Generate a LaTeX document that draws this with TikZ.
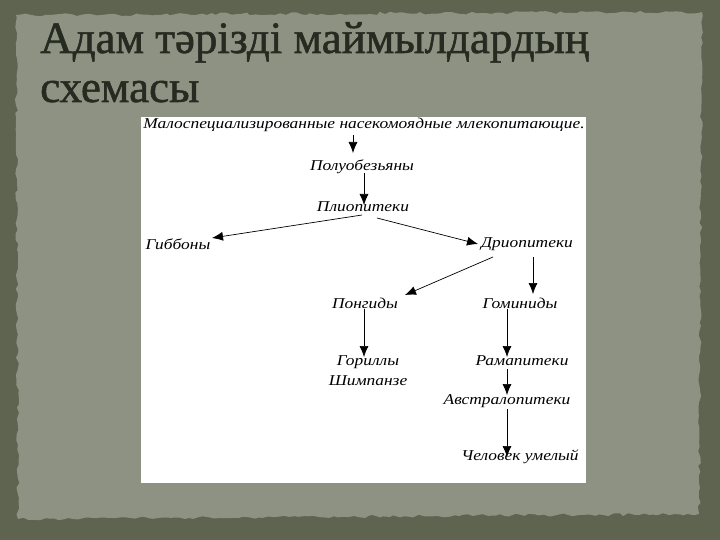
\documentclass[tikz,border=0pt]{standalone}
\usepackage{fontspec}
\setmainfont{Liberation Serif}
\newfontfamily\schemefont[FakeStretch=1.16]{Liberation Serif}
\newfontfamily\titlefont[FakeBold=1.2]{Liberation Serif}
\usetikzlibrary{calc,arrows.meta,decorations.pathmorphing}
\definecolor{frameolive}{HTML}{5E6450}
\definecolor{paper}{HTML}{8E9283}
\definecolor{ink}{HTML}{262B22}
\tikzset{
	taxon/.style={font=\schemefont\itshape\fontsize{15}{20}\selectfont, inner sep=0pt},
	arr/.style={-{Latex[length=11pt,width=9pt]}, line width=0.7pt},
	heading/.style={anchor=base west, inner sep=0pt, text=ink,
		font=\titlefont\fontsize{45}{48}\selectfont}
}

\begin{document}
\begin{tikzpicture}[x=1pt,y=-1pt]
\useasboundingbox (0,0) rectangle (720,540);
% background
\fill[frameolive] (0,0) rectangle (720,540);
\fill[paper, decorate, decoration={random steps,segment length=5pt,amplitude=1.5pt}]
	(16,15) -- (702,12) -- (699,514) -- (18,519) -- cycle;
\fill[white] (141,117) rectangle (586,483);
% title
\node[heading] (title1) at (40,53) {Адам тәрізді маймылдардың};
\node[heading] (title2) at (40,102) {схемасы};
% taxa
\node[taxon] (mlek) at (364,125) {Малоспециализированные насекомоядные млекопитающие.};
\node[taxon] (polu) at (362,167) {Полуобезьяны};
\node[taxon] (plio) at (363,207) {Плиопитеки};
\node[taxon] (gib) at (178,244) {Гиббоны};
\node[taxon] (drio) at (527,244) {Дриопитеки};
\node[taxon] (pong) at (365,303) {Понгиды};
\node[taxon] (gom) at (520,303) {Гоминиды};
\node[taxon, align=center] (gor) at (368,371) {Гориллы\\Шимпанзе};
\node[taxon] (rama) at (522,361) {Рамапитеки};
\node[taxon] (avstr) at (507,401) {Австралопитеки};
\node[taxon] (chel) at (520,457) {Человек умелый};
% links
\draw[arr] ($(mlek)+(-11,10)$) -- ($(polu)+(-9,-14)$);
\draw[arr] ($(polu)+(2,6)$) -- ($(plio)+(1,-2)$);
\draw[arr] ($(plio)+(-1,8)$) -- ($(gib)+(34,-6)$);
\draw[arr] ($(plio)+(14,11)$) -- ($(drio)+(-49,0)$);
\draw[arr] ($(drio)+(-34,13)$) -- ($(pong)+(40,-8)$);
\draw[arr] ($(drio)+(6,13)$) -- ($(gom)+(13,-9)$);
\draw[arr] ($(pong)+(-1,6)$) -- ($(gor)+(-4,-14)$);
\draw[arr] ($(gom)+(-13,6)$) -- ($(rama)+(-15,-4)$);
\draw[arr] ($(rama)+(-15,8)$) -- ($(avstr)+(0,-6)$);
\draw[arr] ($(avstr)+(0,8)$) -- ($(chel)+(-13,0)$);
\end{tikzpicture}
\end{document}
